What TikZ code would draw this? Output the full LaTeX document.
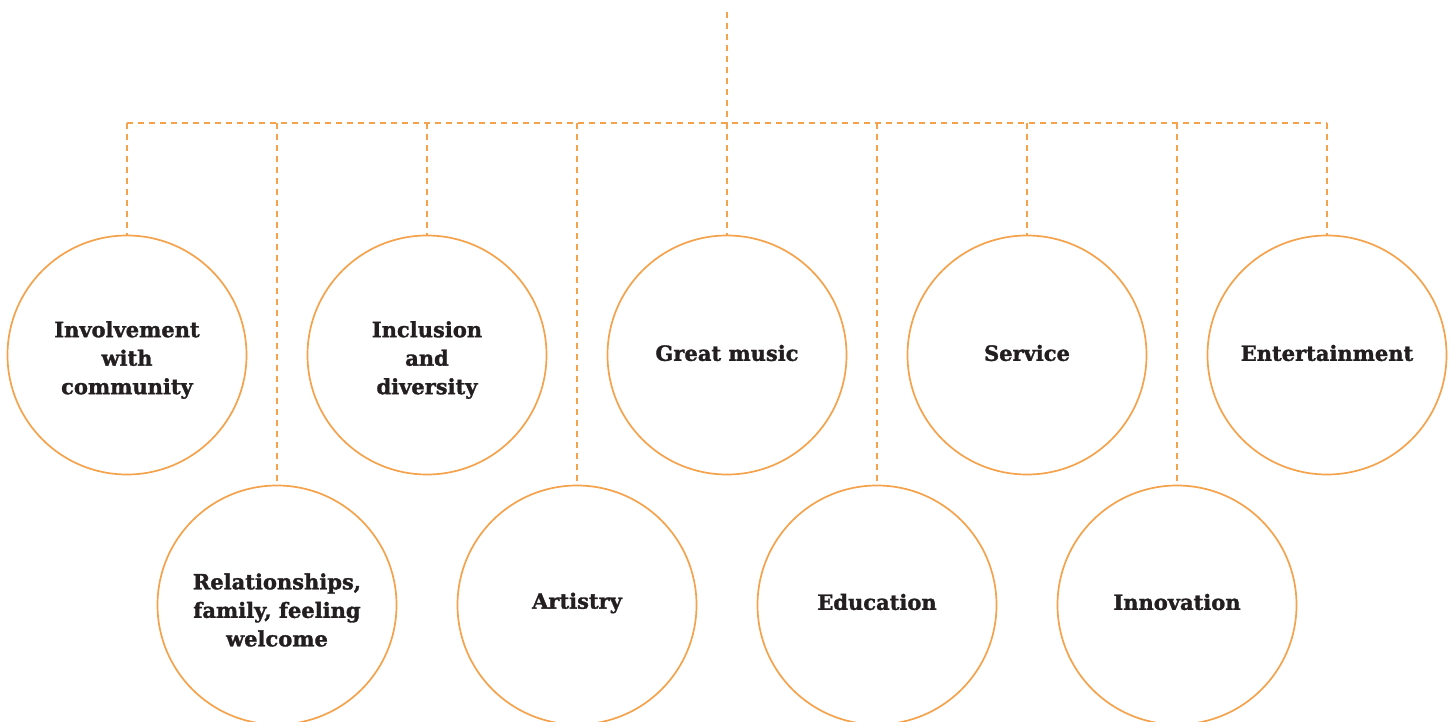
\documentclass[tikz,border=0pt]{standalone}
\usepackage{fontspec}
\setmainfont{DejaVu Serif}[BoldFeatures={FakeBold=1.5}]
\definecolor{orng}{HTML}{F4A24C}
\definecolor{txt}{HTML}{231F20}
\begin{document}
\begin{tikzpicture}[x=1pt,y=-1pt,
  val/.style={circle,draw=orng,line width=1.7pt,minimum size=239pt,inner sep=0pt},
  lbl/.style={align=center,text=txt,inner sep=0pt,font=\fontsize{21}{28.5}\selectfont\bfseries},
  link/.style={draw=orng,line width=1.6pt,dash pattern=on 6pt off 5pt}]
\useasboundingbox (0,0) rectangle (1453,722);
\node[val,label={[lbl,yshift=-5pt]center:Involvement\\with\\community}] (c1) at (127,355) {};
\node[val,label={[lbl,yshift=-5pt]center:Inclusion\\and\\diversity}] (c3) at (427,355) {};
\node[val,label={[lbl,yshift=2pt]center:Great music}] (c5) at (727,355) {};
\node[val,label={[lbl,yshift=2pt]center:Service}] (c7) at (1027,355) {};
\node[val,label={[lbl,yshift=2pt]center:Entertainment}] (c9) at (1327,355) {};
\node[val,label={[lbl,yshift=-5pt]center:Relationships,\\family, feeling\\welcome}] (c2) at (277,605) {};
\node[val,label={[lbl,yshift=2pt]center:Artistry}] (c4) at (577,605) {};
\node[val,label={[lbl,yshift=3pt]center:Education}] (c6) at (877,605) {};
\node[val,label={[lbl,yshift=3pt]center:Innovation}] (c8) at (1177,605) {};
\coordinate (top) at (727,12);
\coordinate (hub) at (727,123);
\coordinate (hl) at (127,123);
\coordinate (hr) at (1327,123);
\draw[link] (top) -- (hub);
\draw[link] (hl) -- (hr);
\foreach \n in {c1,c2,c3,c4,c5,c6,c7,c8,c9}{
  \draw[link] (\n.north |- hub) -- (\n.north);
}
\end{tikzpicture}
\end{document}
